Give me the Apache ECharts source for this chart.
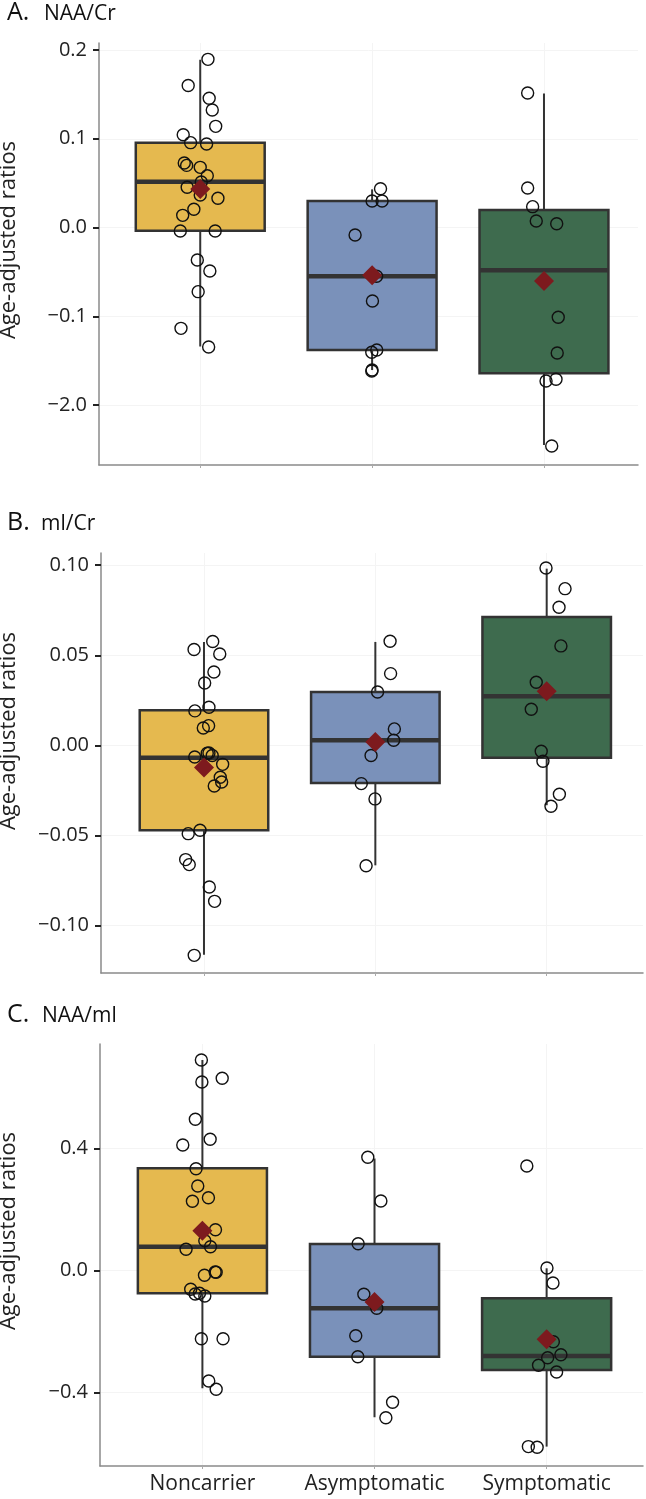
<!DOCTYPE html>
<html>
<head>
<meta charset="utf-8">
<title>Age-adjusted ratios</title>
<script src="https://cdn.jsdelivr.net/npm/echarts@6/dist/echarts.min.js"></script>
<style>
  html, body { margin: 0; padding: 0; background: #fff; }
  #chart { width: 646px; height: 1499px; }
</style>
</head>
<body>
<div id="chart"></div>
<script>
// groups on the x axis
const groups = ['Noncarrier', 'Asymptomatic', 'Symptomatic']

// --- A. NAA/Cr ---
// box per group: [lower whisker, Q1, median, Q3, upper whisker]
const naaCrBoxes = [
  [-0.134, -0.0036, 0.0516, 0.0955, 0.189],
  [-0.1606, -0.138, -0.055, 0.0299, 0.043],
  [-0.245, -0.1643, -0.0482, 0.0197, 0.151],
]
const naaCrMeans = [0.0434, -0.0539, -0.0603]
// points: [group position + jitter, value]
const naaCrPoints = [
  [0.045, 0.1895], [-0.07, 0.16], [0.052, 0.1456], [0.07, 0.1324], [0.09, 0.114],
  [-0.099, 0.1046], [-0.056, 0.0956], [0.037, 0.0941], [-0.093, 0.0727], [-0.079, 0.07],
  [0, 0.0678], [0.041, 0.0584], [0.006, 0.0513], [-0.076, 0.0453], [0, 0.0366],
  [0.103, 0.0329], [-0.037, 0.0205], [-0.102, 0.0137], [-0.116, -0.0039], [0.087, -0.0039],
  [-0.017, -0.0366], [0.056, -0.049], [-0.012, -0.0723], [-0.112, -0.1136], [0.049, -0.1346],
  [1.049, 0.0437], [1.0, 0.0299], [1.058, 0.0299], [0.901, -0.0085], [1.026, -0.055],
  [1.002, -0.0828], [1.027, -0.138], [0.998, -0.1406], [1.0, -0.1606], [0.998, -0.1617],
  [1.905, 0.1516], [1.905, 0.0445], [1.934, 0.0235], [1.955, 0.0073], [2.074, 0.0043],
  [2.083, -0.1012], [2.077, -0.1414], [2.012, -0.173], [2.07, -0.171], [2.045, -0.2462],
]
const naaCrTicks = [-0.2, -0.1, 0, 0.1, 0.2]
const naaCrTickLabels = ['−2.0', '−0.1', '0.0', '0.1', '0.2']

// --- B. ml/Cr ---
const mlCrBoxes = [
  [-0.1163, -0.0472, -0.0069, 0.0194, 0.0574],
  [-0.0667, -0.0209, 0.0028, 0.0296, 0.0574],
  [-0.0333, -0.007, 0.0272, 0.0713, 0.0981],
]
const mlCrMeans = [-0.0124, 0.0018, 0.030]
const mlCrPoints = [
  [0.051, 0.0576], [-0.058, 0.0532], [0.092, 0.0507], [0.058, 0.0407], [0.004, 0.0346],
  [0.029, 0.0211], [-0.053, 0.0191], [0.027, 0.0109], [-0.004, 0.0096], [-0.054, -0.0065],
  [0.019, -0.0044], [0.029, -0.0043], [0.048, -0.0057], [0.109, -0.0106], [0.095, -0.0178],
  [0.103, -0.0204], [0.06, -0.0226], [-0.092, -0.0491], [-0.023, -0.0472], [-0.107, -0.0635],
  [-0.086, -0.0663], [0.031, -0.0787], [0.062, -0.0867], [-0.057, -0.1167],
  [1.086, 0.0578], [1.089, 0.0398], [1.013, 0.0296], [1.111, 0.0091], [1.107, 0.0028],
  [0.975, -0.0057], [0.918, -0.0213], [0.998, -0.0298], [0.946, -0.0669],
  [1.996, 0.0985], [2.107, 0.087], [2.072, 0.0767], [2.083, 0.0552], [1.939, 0.035],
  [1.91, 0.02], [1.968, -0.0033], [1.978, -0.0089], [2.074, -0.0272], [2.025, -0.0339],
]
const mlCrTicks = [-0.1, -0.05, 0, 0.05, 0.1]
const mlCrTickLabels = ['−0.10', '−0.05', '0.00', '0.05', '0.10']

// --- C. NAA/ml ---
const naaMlBoxes = [
  [-0.387, -0.0754, 0.0774, 0.3344, 0.6895],
  [-0.482, -0.2833, -0.1246, 0.0862, 0.367],
  [-0.578, -0.3269, -0.281, -0.0918, 0.0066],
]
const naaMlMeans = [0.130, -0.104, -0.2262]
const naaMlPoints = [
  [-0.006, 0.6895], [-0.003, 0.6174], [0.115, 0.6295], [-0.041, 0.4951], [0.045, 0.4295],
  [-0.114, 0.4108], [-0.037, 0.3331], [-0.027, 0.2764], [0.035, 0.238], [-0.058, 0.2262],
  [0.076, 0.1331], [0.014, 0.097], [0.047, 0.0774], [-0.095, 0.0689], [0.08, -0.0066],
  [0.074, -0.0056], [0.012, -0.0164], [-0.068, -0.0623], [-0.042, -0.0777], [-0.017, -0.0754],
  [0.014, -0.0843], [-0.006, -0.2243], [0.12, -0.2243], [0.037, -0.363], [0.08, -0.39],
  [0.961, 0.3705], [1.037, 0.2272], [0.905, 0.0872], [0.938, -0.0787], [1.013, -0.1246],
  [0.891, -0.2144], [0.903, -0.2833], [1.105, -0.4328], [1.066, -0.4833],
  [1.885, 0.342], [2.002, 0.0075], [2.037, -0.0416], [2.039, -0.234], [2.083, -0.2767],
  [2.006, -0.2866], [1.953, -0.3115], [2.058, -0.3334], [1.894, -0.578], [1.945, -0.58],
]
const naaMlTicks = [-0.4, 0, 0.4]
const naaMlTickLabels = ['−0.4', '0.0', '0.4']

const boxColors = ['#E5B94F', '#7A91BA', '#3E6B4E']
const lineColor = '#333'
const font = '"Open Sans", "Noto Sans", sans-serif'

const panels = [
  {
    letter: 'A.', name: 'NAA/Cr', boxes: naaCrBoxes, means: naaCrMeans, points: naaCrPoints,
    ticks: naaCrTicks, tickLabels: naaCrTickLabels,
    grid: { left: 99, top: 43, width: 539, height: 422 },
    xMin: -0.589, xMax: 2.547, yMin: -0.2676, yMax: 0.2079,
    titleY: 13, subX: 44, nameY: 240,
  },
  {
    letter: 'B.', name: 'ml/Cr', boxes: mlCrBoxes, means: mlCrMeans, points: mlCrPoints,
    ticks: mlCrTicks, tickLabels: mlCrTickLabels,
    grid: { left: 101, top: 553, width: 542, height: 420 },
    xMin: -0.601, xMax: 2.562, yMin: -0.1265, yMax: 0.1068,
    titleY: 523, subX: 41, nameY: 731,
  },
  {
    letter: 'C.', name: 'NAA/ml', boxes: naaMlBoxes, means: naaMlMeans, points: naaMlPoints,
    ticks: naaMlTicks, tickLabels: naaMlTickLabels,
    grid: { left: 100, top: 1044, width: 543, height: 422 },
    xMin: -0.595, xMax: 2.56, yMin: -0.6416, yMax: 0.742,
    titleY: 1015, subX: 42, nameY: 1231,
  },
]

// box + whisker like ggplot (no caps)
function renderBox(params, api) {
  const x = api.value(0)
  const low = api.coord([x, api.value(1)])
  const q1 = api.coord([x, api.value(2)])
  const med = api.coord([x, api.value(3)])
  const q3 = api.coord([x, api.value(4)])
  const high = api.coord([x, api.value(5)])
  const w = api.size([0.75, 0])[0]
  return {
    type: 'group',
    children: [
      {
        type: 'line',
        shape: { x1: low[0], y1: low[1], x2: high[0], y2: high[1] },
        style: { stroke: lineColor, lineWidth: 2 },
      },
      {
        type: 'rect',
        shape: { x: q3[0] - w / 2, y: q3[1], width: w, height: q1[1] - q3[1] },
        style: { fill: boxColors[params.dataIndex], stroke: lineColor, lineWidth: 2.5 },
      },
      {
        type: 'line',
        shape: { x1: med[0] - w / 2, y1: med[1], x2: med[0] + w / 2, y2: med[1] },
        style: { stroke: lineColor, lineWidth: 4.5 },
      },
    ],
  }
}

const grids = []
const xAxes = []
const yAxes = []
const series = []
const graphics = []

panels.forEach((p, i) => {
  grids.push(Object.assign({ containLabel: false, outerBoundsMode: 'none' }, p.grid))

  xAxes.push({
    gridIndex: i,
    type: 'value',
    min: p.xMin,
    max: p.xMax,
    axisLine: { show: true, onZero: false, lineStyle: { color: '#8a8a8a', width: 1.5 } },
    axisTick: { show: true, customValues: [0, 1, 2], length: 3, lineStyle: { color: '#aaa' } },
    axisLabel: {
      show: i === 2,
      customValues: [0, 1, 2],
      formatter: (v) => groups[Math.round(v)],
      fontSize: 21,
      fontFamily: font,
      color: '#222',
      margin: 8,
    },
    splitLine: { show: true, lineStyle: { color: '#f4f4f4', width: 1 } },
  })

  yAxes.push({
    gridIndex: i,
    type: 'value',
    min: p.yMin,
    max: p.yMax,
    axisLine: { show: true, onZero: false, lineStyle: { color: '#8a8a8a', width: 1.5 } },
    axisTick: { show: true, customValues: p.ticks, length: 6, lineStyle: { color: '#222', width: 2 } },
    axisLabel: {
      customValues: p.ticks,
      formatter: (v) => {
        const k = p.ticks.findIndex((t) => Math.abs(t - v) < 1e-9)
        return k >= 0 ? p.tickLabels[k] : ''
      },
      fontSize: 20,
      fontFamily: font,
      color: '#222',
      margin: 12,
    },
    splitLine: { show: true, lineStyle: { color: '#f4f4f4', width: 1 } },
  })

  series.push({
    type: 'custom',
    xAxisIndex: i,
    yAxisIndex: i,
    renderItem: renderBox,
    data: p.boxes.map((b, k) => [k].concat(b)),
    encode: { x: 0, y: [1, 2, 3, 4, 5] },
    silent: true,
    z: 2,
  })
  series.push({
    type: 'scatter',
    xAxisIndex: i,
    yAxisIndex: i,
    data: p.points,
    symbol: 'circle',
    symbolSize: 12,
    itemStyle: { color: 'rgba(0,0,0,0)', borderColor: '#111', borderWidth: 1.4, opacity: 1 },
    silent: true,
    z: 3,
  })
  series.push({
    type: 'scatter',
    xAxisIndex: i,
    yAxisIndex: i,
    data: p.means.map((m, k) => [k, m]),
    symbol: 'diamond',
    symbolSize: 20,
    itemStyle: { color: '#7D1A1E', opacity: 1 },
    silent: true,
    z: 4,
  })

  // panel titles and y axis name
  graphics.push({
    type: 'text', x: 7, y: p.titleY,
    style: { text: p.letter, font: '25px ' + font, fill: '#111', textAlign: 'left', textVerticalAlign: 'middle' },
  })
  graphics.push({
    type: 'text', x: p.subX, y: p.titleY + 1.5,
    style: { text: p.name, font: '21px ' + font, fill: '#111', textAlign: 'left', textVerticalAlign: 'middle' },
  })
  graphics.push({
    type: 'text', x: 9, y: p.nameY, rotation: Math.PI / 2,
    style: { text: 'Age-adjusted ratios', font: '22px ' + font, fill: '#222', textAlign: 'center', textVerticalAlign: 'middle' },
  })
})

const chart = echarts.init(document.getElementById('chart'), null, { renderer: 'canvas' })
chart.setOption({
  animation: false,
  backgroundColor: '#fff',
  grid: grids,
  xAxis: xAxes,
  yAxis: yAxes,
  series: series,
  graphic: graphics,
})
</script>
</body>
</html>
